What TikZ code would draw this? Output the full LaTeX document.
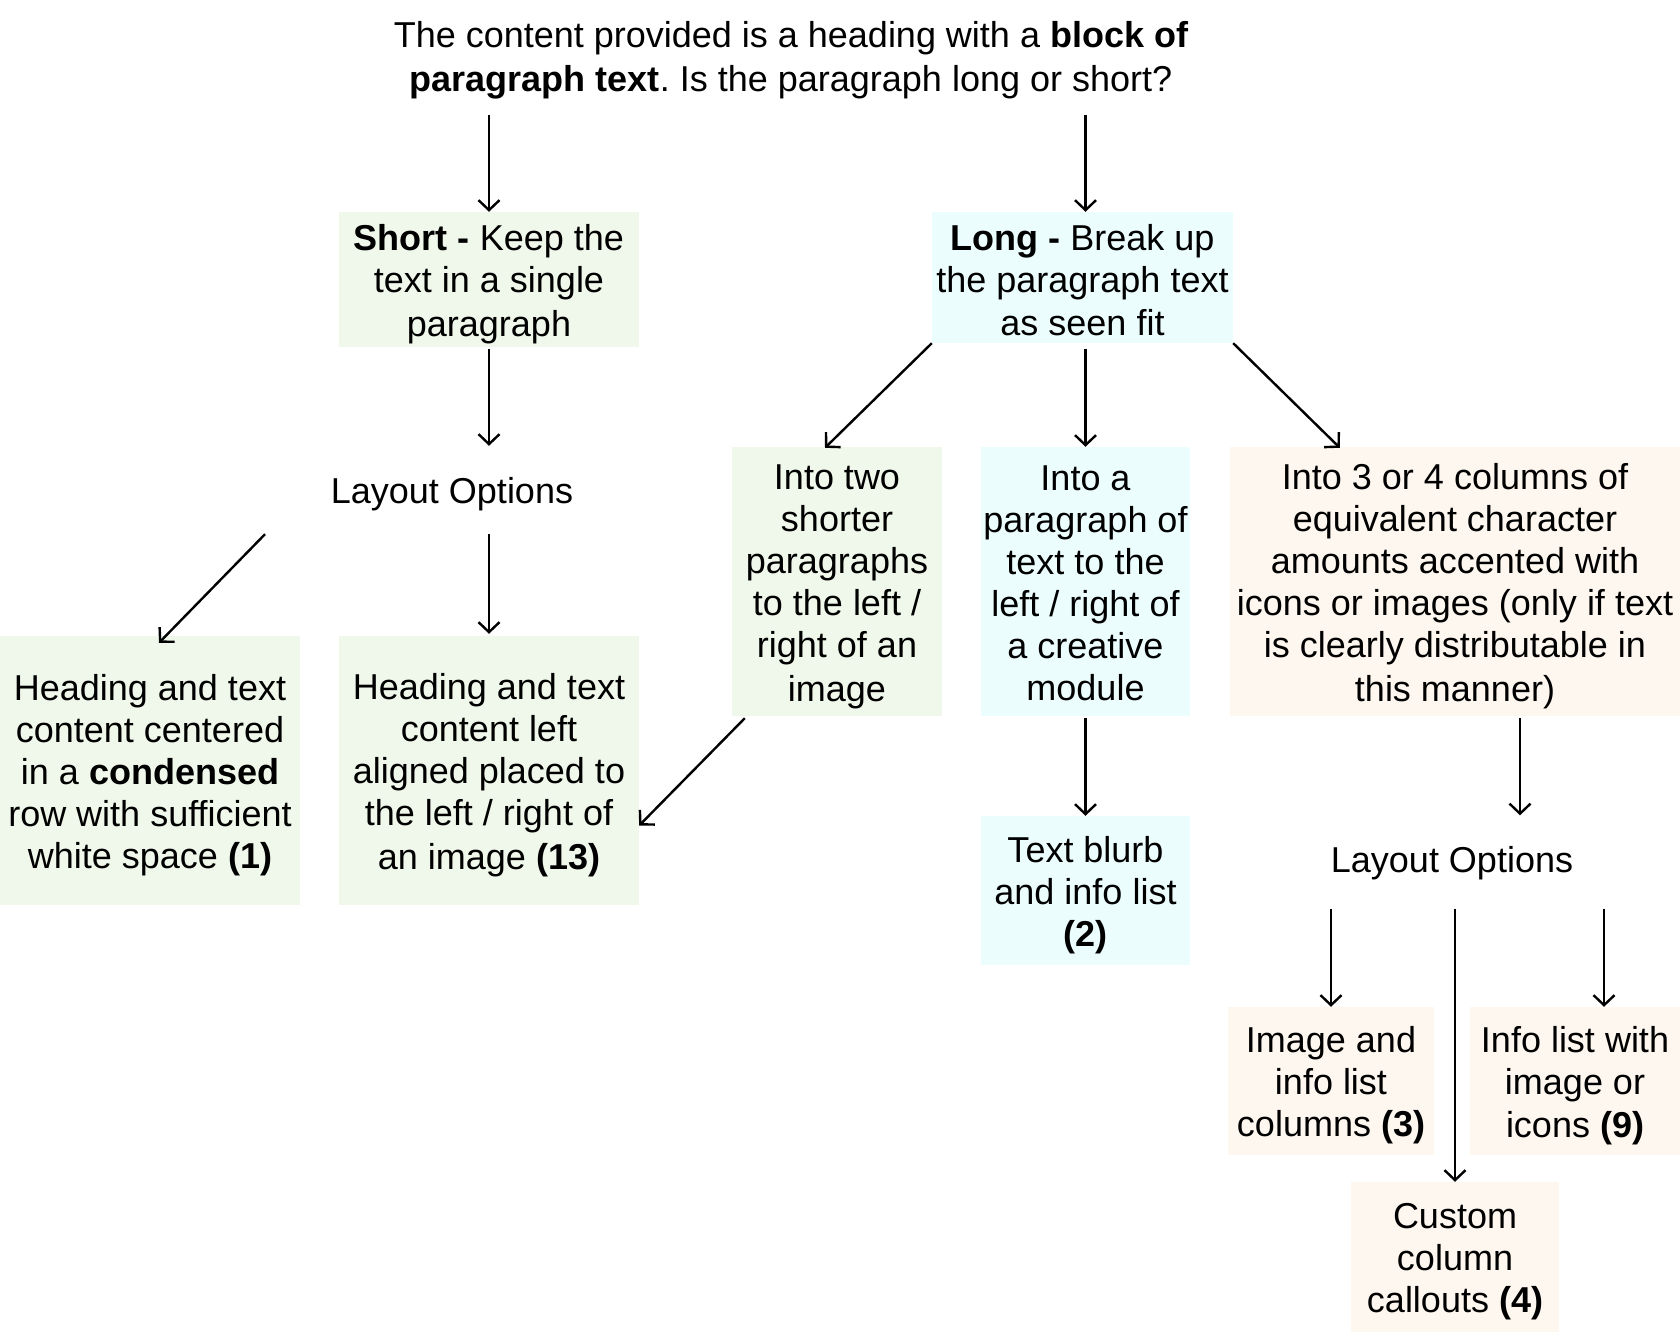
\documentclass[tikz,border=0pt]{standalone}
\usepackage{fontspec}
\setmainfont{Liberation Sans}
\usetikzlibrary{arrows.meta,calc}
\frenchspacing
\definecolor{gfill}{RGB}{239,248,234}
\definecolor{cfill}{RGB}{236,253,253}
\definecolor{pfill}{RGB}{254,247,240}
\newcommand\ls{\rule[-7pt]{0pt}{42pt}}
\tikzset{
  txt/.style={inner sep=0pt, align=center, font=\fontsize{36}{42}\selectfont},
  gbox/.style={txt, fill=gfill},
  cbox/.style={txt, fill=cfill},
  pbox/.style={txt, fill=pfill},
  arr/.style={line width=2.4pt, -{Straight Barb[length=10pt,width=21pt,line width=2.4pt]}}
}
\begin{document}
\begin{tikzpicture}[x=1pt,y=-1pt]
\fill[white] (0,0) rectangle (1680,1332);
\useasboundingbox (0,0) rectangle (1680,1332);
% nodes
\node[txt, minimum height=118pt] (title) at (791,56) {\ls The content provided is a heading with a \textbf{block of}\\\textbf{paragraph text}. Is the paragraph long or short?\ls};
\node[gbox, minimum width=300pt, minimum height=135pt] (short) at (489,279.5) {\ls\textbf{Short -} Keep the\\text in a single\\paragraph\ls};
\node[cbox, minimum width=301pt, minimum height=131pt] (long) at (1082.5,277.5) {\rule[-7pt]{0pt}{45pt}\textbf{Long -} Break up\\the paragraph text\\as seen fit\ls};
\node[txt, minimum height=88pt] (lay1) at (452,490) {\ls Layout Options};
\node[gbox, minimum width=300pt, minimum height=269pt] (box1) at (150,770.5) {\ls Heading and text\\content centered\\in a \textbf{condensed}\\row with sufficient\\white space \textbf{(1)}\ls};
\node[gbox, minimum width=300pt, minimum height=269pt] (box13) at (489,770.5) {\ls Heading and text\\content left\\aligned placed to\\the left / right of\\an image \textbf{(13)}\ls};
\node[gbox, minimum width=210pt, minimum height=269pt] (two) at (837,581.5) {\ls Into two\\shorter\\paragraphs\\to the left /\\right of an\\image\ls};
\node[cbox, minimum width=209pt, minimum height=269pt] (para) at (1085.5,581.5) {\ls Into a\\paragraph of\\text to the\\left / right of\\a creative\\module\ls};
\node[pbox, minimum width=450pt, minimum height=269pt] (cols) at (1455,581.5) {\ls Into 3 or 4 columns of\\equivalent character\\amounts accented with\\icons or images (only if text\\is clearly distributable in\\this manner)\ls};
\node[cbox, minimum width=209pt, minimum height=149pt] (blurb) at (1085.5,890.5) {\ls Text blurb\\and info list\\\textbf{(2)}\ls};
\node[txt, minimum height=93pt] (lay2) at (1452,859) {\ls Layout Options};
\node[pbox, minimum width=206pt, minimum height=148pt] (img) at (1331,1081) {\ls Image and\\info list\\columns \textbf{(3)}\ls};
\node[pbox, minimum width=210pt, minimum height=148pt] (info) at (1575,1081) {\ls Info list with\\image or\\icons \textbf{(9)}\ls};
\node[pbox, minimum width=208pt, minimum height=150pt] (custom) at (1455,1257) {\ls Custom\\column\\callouts \textbf{(4)}\ls};
% connectors
\draw[arr] (title.south -| short.north) -- (short.north);
\draw[arr] ($(title.south -| long.north)+(3,0)$) -- ($(long.north)+(3,0)$);
\draw[arr] ($(short.south)+(0,2)$) -- (lay1.north -| short.south);
\draw[arr] ($(lay1.south)+(-187,0)$) -- ($(box1.north)+(9,7)$);
\draw[arr] (lay1.south -| box13.north) -- ($(box13.north)+(0,-2)$);
\draw[arr] (long.south west) -- ($(two.north)+(-12,1)$);
\draw[arr] ($(long.south -| para.north)+(0,6)$) -- (para.north);
\draw[arr] (long.south east) -- ($(cols.north west)+(110,1)$);
\draw[arr] ($(two.south west)+(13,2)$) -- ($(box13.east)+(0,55)$);
\draw[arr] ($(para.south)+(0,2)$) -- (blurb.north);
\draw[arr] ($(cols.south)+(65,2)$) -- ($(lay2.north -| cols.south)+(65,3)$);
\draw[arr] ($(lay2.south -| img.north)+(0,3)$) -- (img.north);
\draw[arr] ($(lay2.south -| custom.north)+(0,3)$) -- (custom.north);
\draw[arr] ($(lay2.south -| info.north)+(29,3)$) -- ($(info.north)+(29,0)$);
\end{tikzpicture}
\end{document}
